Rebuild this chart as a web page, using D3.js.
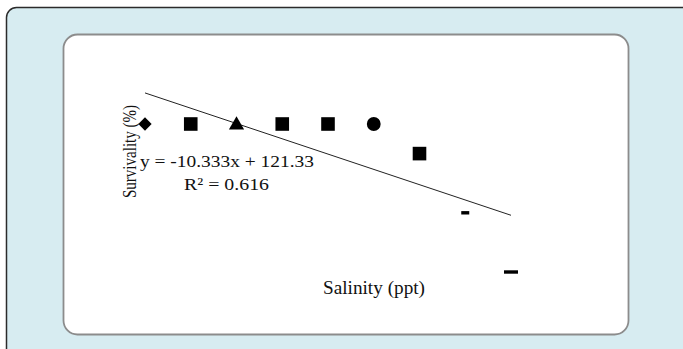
<!DOCTYPE html>
<html>
<head>
<meta charset="utf-8">
<script src="https://cdn.jsdelivr.net/npm/d3@7"></script>
<style>
    body { margin: 0; background: #ffffff; }
    svg { display: block; }
</style>
</head>
<body>
<div id="chart"></div>
<script>
// salinity levels and survival values
const salinity = [1, 2, 3, 4, 5, 6, 7, 8, 9];
const survival = [90, 90, 90, 90, 90, 90, 70, 30, -10];
const markers = ['diamond', 'square', 'triangle', 'square', 'square', 'circle', 'square', 'dashSmall', 'dashLarge'];
const trendSlope = -10.333, trendIntercept = 121.33;
const equationText = 'y = -10.333x + 121.33';
const r2Text = 'R² = 0.616';
const xTitle = 'Salinity (ppt)';
const yTitle = 'Survivality (%)';

function init() {
    const width = 683, height = 349;
    const font = '"Liberation Serif", "Times New Roman", serif';

    const svg = d3.select('#chart')
        .append('svg')
        .attr('width', width)
        .attr('height', height);

    // outer light blue panel
    svg.append('rect')
        .attr('x', 6.5).attr('y', 7.5)
        .attr('width', 720).attr('height', 400)
        .attr('rx', 10)
        .attr('fill', '#d7ecf1')
        .attr('stroke', '#2b2b2b')
        .attr('stroke-width', 1.5);

    // inner white card
    svg.append('rect')
        .attr('x', 63.5).attr('y', 34.5)
        .attr('width', 565).attr('height', 300)
        .attr('rx', 14)
        .attr('fill', '#ffffff')
        .attr('stroke', '#8c8c8c')
        .attr('stroke-width', 1.8);

    const xScale = d3.scaleLinear().domain([1, 9]).range([145, 511]);
    const yScale = d3.scaleLinear().domain([-10, 90]).range([272, 124]);

    // trend line
    const ends = [d3.min(salinity), d3.max(salinity)];
    svg.append('line')
        .attr('x1', xScale(ends[0])).attr('y1', yScale(trendSlope * ends[0] + trendIntercept))
        .attr('x2', xScale(ends[1])).attr('y2', yScale(trendSlope * ends[1] + trendIntercept))
        .attr('stroke', '#222')
        .attr('stroke-width', 1);

    const data = salinity.map((s, i) => ({ x: s, y: survival[i], m: markers[i] }));

    const g = svg.append('g');
    data.forEach(d => {
        const cx = xScale(d.x), cy = yScale(d.y);
        if (d.m === 'dashSmall' || d.m === 'dashLarge') {
            const w = d.m === 'dashSmall' ? 8 : 14;
            g.append('rect')
                .attr('x', cx - w / 2).attr('y', cy - 1.7)
                .attr('width', w).attr('height', 3.4)
                .attr('fill', '#000');
            return;
        }
        let sym, size, rot = 0;
        switch (d.m) {
            case 'diamond': sym = d3.symbolSquare; size = 88; rot = 45; break;
            case 'square': sym = d3.symbolSquare; size = 185; break;
            case 'triangle': sym = d3.symbolTriangle; size = 100; break;
            case 'circle': sym = d3.symbolCircle; size = 150; break;
        }
        g.append('path')
            .attr('d', d3.symbol().type(sym).size(size)())
            .attr('transform', `translate(${cx},${cy + (d.m === 'triangle' ? 1 : 0)}) rotate(${rot})`)
            .attr('fill', '#000');
    });

    // y axis title (rotated)
    svg.append('text')
        .attr('transform', 'translate(136,151.5) rotate(-90)')
        .attr('text-anchor', 'middle')
        .attr('textLength', 93)
        .attr('lengthAdjust', 'spacingAndGlyphs')
        .style('font-family', font)
        .style('font-size', '18.5px')
        .attr('fill', '#111')
        .text(yTitle);

    // trend equation
    svg.append('text')
        .attr('x', 140).attr('y', 167)
        .attr('textLength', 174)
        .attr('lengthAdjust', 'spacingAndGlyphs')
        .style('font-family', font)
        .style('font-size', '17.5px')
        .attr('fill', '#111')
        .text(equationText);

    svg.append('text')
        .attr('x', 184).attr('y', 189.5)
        .attr('textLength', 85)
        .attr('lengthAdjust', 'spacingAndGlyphs')
        .style('font-family', font)
        .style('font-size', '17.5px')
        .attr('fill', '#111')
        .text(r2Text);

    // x axis title
    svg.append('text')
        .attr('x', 323).attr('y', 293.5)
        .attr('textLength', 102)
        .attr('lengthAdjust', 'spacingAndGlyphs')
        .style('font-family', font)
        .style('font-size', '19.5px')
        .attr('fill', '#111')
        .text(xTitle);
}

window.onload = init;
</script>
</body>
</html>
